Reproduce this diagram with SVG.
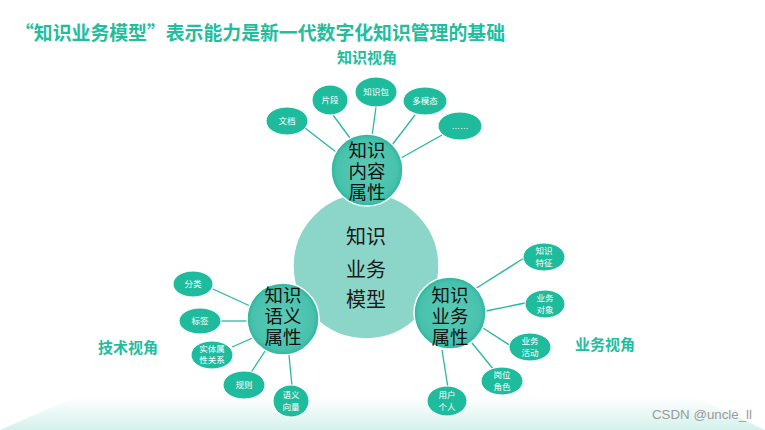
<svg xmlns="http://www.w3.org/2000/svg" width="765" height="430" viewBox="0 0 765 430">
<defs>
<linearGradient id="floor" x1="0" y1="0" x2="0" y2="1">
<stop offset="0" stop-color="#ffffff"/>
<stop offset="1" stop-color="#d4f1ec"/>
</linearGradient>
<radialGradient id="mid" cx="0.5" cy="0.5" r="0.5">
<stop offset="0" stop-color="#5ccab7"/>
<stop offset="0.85" stop-color="#48c2ad"/>
<stop offset="1" stop-color="#2cb59d"/>
</radialGradient>
<style>
.title{font-family:"Noto Sans CJK SC","Liberation Sans",sans-serif;font-weight:bold;fill:#22bd9d}
.view{font-family:"Noto Sans CJK SC","Liberation Sans",sans-serif;font-weight:bold;font-size:15px;fill:#22bd9d;text-anchor:middle}
.big{fill:#8cd6c9;stroke:#ffffff;stroke-width:1.5}
.mid{fill:url(#mid);stroke:#ffffff;stroke-width:1.5}
.leaf{fill:#1ebc9d;stroke:#ffffff;stroke-width:1}
.ct{font-family:"Liberation Sans","Noto Sans CJK SC",sans-serif;font-size:18.5px;fill:#111111;text-anchor:middle}
.bt{font-family:"Liberation Sans","Noto Sans CJK SC",sans-serif;font-size:20px;fill:#1a1a1a;text-anchor:middle}
.lt{font-family:"Liberation Sans","Noto Sans CJK SC",sans-serif;font-size:8.5px;fill:#ffffff;text-anchor:middle}
.conn line{stroke:#28b89c;stroke-width:1.3}
.wm{font-family:"Liberation Sans",sans-serif;font-size:13px;fill:#9a9a9a}
</style>
</defs>
<rect width="765" height="430" fill="#ffffff"/>
<polygon points="75,397 695,397 765,430 0,430" fill="url(#floor)"/>
<text class="title" x="15" y="40" font-size="19" textLength="490" lengthAdjust="spacingAndGlyphs">“知识业务模型”表示能力是新一代数字化知识管理的基础</text>
<text class="view" x="367" y="63">知识视角</text>
<text class="view" x="128" y="353">技术视角</text>
<text class="view" x="605" y="350">业务视角</text>

<g class="conn" id="connectors">
<line x1="305" y1="128" x2="336" y2="152"/>
<line x1="333" y1="115" x2="350" y2="138"/>
<line x1="376" y1="107" x2="372" y2="136"/>
<line x1="415" y1="115" x2="392" y2="145"/>
<line x1="442" y1="135" x2="401" y2="158"/>
<line x1="213" y1="289" x2="250" y2="306"/>
<line x1="221" y1="321" x2="248" y2="321"/>
<line x1="232" y1="347" x2="255" y2="337"/>
<line x1="250" y1="374" x2="267" y2="348"/>
<line x1="292" y1="386" x2="289" y2="355"/>
<line x1="524" y1="258" x2="475" y2="289"/>
<line x1="525" y1="303" x2="486" y2="311"/>
<line x1="511" y1="346" x2="483" y2="328"/>
<line x1="494" y1="370" x2="472" y2="343"/>
<line x1="448" y1="388" x2="442" y2="350"/>
</g>

<g id="core">
<circle class="big" cx="366" cy="266" r="73"/>
<text class="bt" x="366" y="244">知识<tspan x="366" dy="33">业务</tspan><tspan x="366" dy="30">模型</tspan></text>
</g>
<g id="content">
<circle class="mid" cx="367" cy="170" r="36"/>
<text class="ct" x="367" y="157">知识<tspan x="367" dy="21">内容</tspan><tspan x="367" dy="21">属性</tspan></text>
</g>
<g id="semantic">
<circle class="mid" cx="283" cy="319" r="36"/>
<text class="ct" x="283" y="302">知识<tspan x="283" dy="21">语义</tspan><tspan x="283" dy="21">属性</tspan></text>
</g>
<g id="business">
<circle class="mid" cx="450" cy="313" r="36"/>
<text class="ct" x="450" y="302">知识<tspan x="450" dy="21">业务</tspan><tspan x="450" dy="21">属性</tspan></text>
</g>

<g id="leaf-doc"><ellipse class="leaf" cx="287" cy="121" rx="21" ry="14"/><text class="lt" x="287" y="124">文档</text></g>
<g id="leaf-frag"><ellipse class="leaf" cx="330" cy="100" rx="18" ry="15"/><text class="lt" x="330" y="103">片段</text></g>
<g id="leaf-pack"><ellipse class="leaf" cx="376" cy="92" rx="21" ry="15"/><text class="lt" x="376" y="95">知识包</text></g>
<g id="leaf-multi"><ellipse class="leaf" cx="425" cy="101" rx="22" ry="14"/><text class="lt" x="425" y="104">多模态</text></g>
<g id="leaf-more"><ellipse class="leaf" cx="460" cy="126" rx="22" ry="14"/><text class="lt" x="460" y="129">……</text></g>

<g id="leaf-class"><ellipse class="leaf" cx="193" cy="284" rx="20" ry="13"/><text class="lt" x="193" y="287">分类</text></g>
<g id="leaf-tag"><ellipse class="leaf" cx="200" cy="321" rx="21" ry="13"/><text class="lt" x="200" y="324">标签</text></g>
<g id="leaf-entity"><ellipse class="leaf" cx="212" cy="355" rx="21" ry="14"/><text class="lt" x="212" y="352">实体属<tspan x="212" dy="11">性关系</tspan></text></g>
<g id="leaf-rule"><ellipse class="leaf" cx="244" cy="385" rx="21" ry="14"/><text class="lt" x="244" y="388">规则</text></g>
<g id="leaf-vector"><ellipse class="leaf" cx="291" cy="401" rx="18" ry="16"/><text class="lt" x="291" y="398">语义<tspan x="291" dy="12">向量</tspan></text></g>

<g id="leaf-feature"><ellipse class="leaf" cx="544" cy="257" rx="21" ry="14"/><text class="lt" x="544" y="254">知识<tspan x="544" dy="12">特征</tspan></text></g>
<g id="leaf-object"><ellipse class="leaf" cx="545" cy="304" rx="20" ry="14"/><text class="lt" x="545" y="301">业务<tspan x="545" dy="12">对象</tspan></text></g>
<g id="leaf-activity"><ellipse class="leaf" cx="530" cy="347" rx="21" ry="14"/><text class="lt" x="530" y="344">业务<tspan x="530" dy="12">活动</tspan></text></g>
<g id="leaf-role"><ellipse class="leaf" cx="502" cy="381" rx="21" ry="14"/><text class="lt" x="502" y="378">岗位<tspan x="502" dy="12">角色</tspan></text></g>
<g id="leaf-user"><ellipse class="leaf" cx="447" cy="401" rx="20" ry="15"/><text class="lt" x="447" y="398">用户<tspan x="447" dy="12">个人</tspan></text></g>

<text class="wm" x="652" y="419" textLength="100" lengthAdjust="spacingAndGlyphs">CSDN @uncle_ll</text>
</svg>
